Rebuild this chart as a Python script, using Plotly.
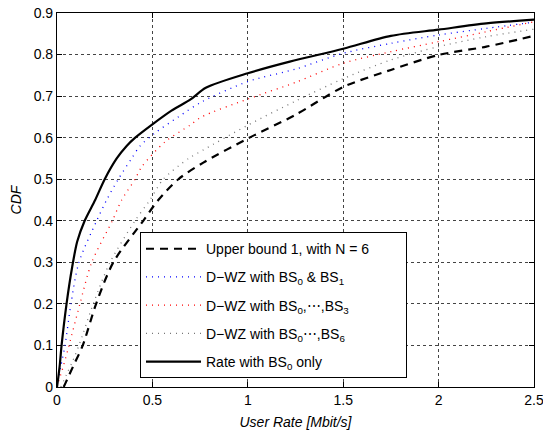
import plotly.graph_objects as go

# Solid black: Rate with BS0 only
solid_x = [0.0, 0.006, 0.014, 0.024, 0.05, 0.08, 0.106, 0.145, 0.20, 0.25, 0.313, 0.365, 0.41, 0.50, 0.60, 0.70, 0.78, 1.0, 1.22, 1.5, 1.75, 2.0, 2.25, 2.5]
solid_y = [0.0, 0.02, 0.05, 0.10, 0.20, 0.29, 0.35, 0.40, 0.45, 0.50, 0.55, 0.58, 0.60, 0.632, 0.665, 0.692, 0.72, 0.755, 0.783, 0.814, 0.845, 0.86, 0.875, 0.884]

# Blue dotted: D-WZ with BS0 & BS1
blue_x = [0.0, 0.02, 0.042, 0.073, 0.115, 0.208, 0.26, 0.321, 0.391, 0.435, 0.51, 0.636, 0.758, 1.0, 1.25, 1.5, 1.75, 2.0, 2.25, 2.5]
blue_y = [0.0, 0.05, 0.10, 0.20, 0.30, 0.40, 0.45, 0.50, 0.55, 0.58, 0.61, 0.65, 0.686, 0.735, 0.765, 0.803, 0.827, 0.847, 0.863, 0.878]

# Red dotted: D-WZ with BS0,...,BS3
red_x = [0.0, 0.033, 0.063, 0.12, 0.182, 0.29, 0.339, 0.409, 0.444, 0.566, 0.697, 0.758, 1.0, 1.25, 1.5, 1.75, 2.0, 2.25, 2.5]
red_y = [0.0, 0.05, 0.10, 0.20, 0.30, 0.40, 0.45, 0.50, 0.53, 0.59, 0.63, 0.65, 0.693, 0.733, 0.779, 0.807, 0.831, 0.855, 0.879]

# Gray dotted: D-WZ with BS0...,BS6
gray_x = [0.02, 0.05, 0.08, 0.115, 0.19, 0.278, 0.409, 0.487, 0.557, 0.69, 0.765, 1.0, 1.25, 1.5, 1.75, 2.0, 2.25, 2.5]
gray_y = [0.0, 0.03, 0.06, 0.10, 0.20, 0.30, 0.40, 0.45, 0.50, 0.55, 0.57, 0.63, 0.688, 0.742, 0.787, 0.819, 0.843, 0.861]

# Dashed black: Upper bound 1, with N = 6
dash_x = [0.035, 0.045, 0.085, 0.135, 0.205, 0.295, 0.452, 0.531, 0.636, 0.767, 1.0, 1.25, 1.5, 1.75, 2.0, 2.25, 2.5]
dash_y = [0.0, 0.01, 0.05, 0.10, 0.20, 0.30, 0.40, 0.45, 0.50, 0.54, 0.598, 0.655, 0.722, 0.763, 0.799, 0.819, 0.845]

x_ticks = [0, 0.5, 1, 1.5, 2, 2.5]
x_labels = ["0", "0.5", "1", "1.5", "2", "2.5"]
y_ticks = [0, 0.1, 0.2, 0.3, 0.4, 0.5, 0.6, 0.7, 0.8, 0.9]
y_labels = ["0", "0.1", "0.2", "0.3", "0.4", "0.5", "0.6", "0.7", "0.8", "0.9"]

names = [
    "Upper bound 1, with N = 6\u00a0\u00a0\u00a0\u00a0\u00a0\u00a0\u00a0\u00a0",
    "D\u2212WZ with BS<sub>0</sub> &amp; BS<sub>1</sub>",
    "D\u2212WZ with BS<sub>0</sub>,\u22ef,BS<sub>3</sub>",
    "D\u2212WZ with BS<sub>0</sub>\u22ef,BS<sub>6</sub>",
    "Rate with BS<sub>0</sub> only",
]

FONT = "Liberation Sans, Arial, Helvetica, sans-serif"
SM = 0.8

fig = go.Figure()
fig.add_trace(go.Scatter(x=dash_x, y=dash_y, mode="lines", name=names[0], legendgroup="a",
                         line=dict(color="black", width=2.2, dash="8px,6px", shape="spline", smoothing=SM)))
fig.add_trace(go.Scatter(x=blue_x, y=blue_y, mode="lines", name=names[1], legendgroup="b",
                         line=dict(color="blue", width=1.3, dash="1px,5px", shape="spline", smoothing=SM)))
fig.add_trace(go.Scatter(x=red_x, y=red_y, mode="lines", name=names[2], legendgroup="c",
                         line=dict(color="red", width=1.3, dash="1px,5px", shape="spline", smoothing=SM)))
fig.add_trace(go.Scatter(x=gray_x, y=gray_y, mode="lines", name=names[3], legendgroup="d",
                         line=dict(color="#777777", width=1.3, dash="1px,5px", shape="spline", smoothing=SM)))
fig.add_trace(go.Scatter(x=solid_x, y=solid_y, mode="lines", name=names[4], legendgroup="e",
                         line=dict(color="black", width=2.2, shape="spline", smoothing=SM)))

axis_common = dict(
    showline=True, linecolor="black", linewidth=1.2, mirror="ticks",
    ticks="inside", ticklen=5, tickcolor="black",
    showgrid=True, gridcolor="#444444", griddash="dot", gridwidth=1,
    zeroline=False, automargin=False, ticklabeloverflow="allow",
    tickfont=dict(family=FONT, size=14, color="black"),
)

fig.update_layout(
    width=543, height=430,
    margin=dict(l=57, r=9, t=13, b=43, autoexpand=False),
    paper_bgcolor="white", plot_bgcolor="white",
    font=dict(family=FONT, color="black"),
    xaxis=dict(range=[0, 2.5], tickvals=x_ticks, ticktext=x_labels,
               title=dict(text="<i>User Rate [Mbit/s]</i>", font=dict(family=FONT, size=14), standoff=10),
               **axis_common),
    yaxis=dict(range=[0, 0.9], tickvals=y_ticks, ticktext=y_labels,
               title=dict(text="<i>CDF</i>", font=dict(family=FONT, size=14), standoff=8),
               **axis_common),
    legend=dict(x=0.174, y=0.414, xanchor="left", yanchor="top",
                bgcolor="white", bordercolor="black", borderwidth=1,
                font=dict(family=FONT, size=14, color="black"),
                itemwidth=55, tracegroupgap=7, traceorder="grouped"),
    showlegend=True,
)

fig.write_html("out.html", config={"displayModeBar": False},
               post_script="document.body.style.margin='0';document.body.style.overflow='hidden';")
